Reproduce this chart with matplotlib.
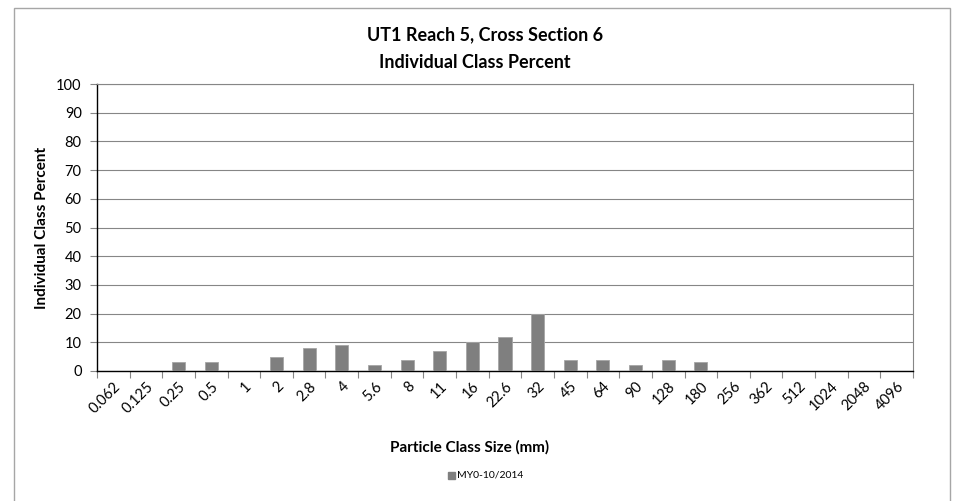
import matplotlib
matplotlib.use('Agg')
import numpy as np
import matplotlib.pyplot as plt
from matplotlib.patches import Rectangle

# Particle size classes (mm) and percent of sample in each class
sizes = ['0.062', '0.125', '0.25', '0.5', '1', '2', '2.8', '4', '5.6', '8', '11',
         '16', '22.6', '32', '45', '64', '90', '128', '180', '256', '362', '512',
         '1024', '2048', '4096']
percent = [0, 0, 3, 3, 0, 5, 8, 9, 2, 4, 7, 10, 12, 20, 4, 4, 2, 4, 3,
           0, 0, 0, 0, 0, 0]
series_name = 'MY0-10/2014'

plt.rcParams['font.family'] = ['Lato', 'DejaVu Sans']

fig = plt.figure(figsize=(9.69, 5.01), dpi=100)
ax = fig.add_axes([97/969, 1-371/501, 816/969, 287/501])

x = np.arange(len(sizes))
ax.bar(x, percent, width=0.4, color='#7f7f7f', edgecolor='#a6a6a6',
       linewidth=0.6, zorder=3)

ax.set_xlim(-0.5, len(sizes) - 0.5)
ax.set_ylim(0, 100)
ax.set_yticks(np.arange(0, 101, 10))
ax.tick_params(axis='y', labelsize=10.5, length=5, width=0.8, color='#868686',
               pad=6)
ax.yaxis.grid(True, color='#868686', linewidth=0.8, zorder=0)

# category labels, with tick marks on the class boundaries
ax.set_xticks(x)
ax.set_xticklabels(sizes, rotation=45, ha='right', rotation_mode='anchor',
                   fontsize=10.5)
ax.tick_params(axis='x', length=0, pad=6)
ax.set_xticks(np.arange(-0.5, len(sizes)), minor=True)
ax.tick_params(axis='x', which='minor', length=5, width=0.8, color='#868686')

for s in ['left', 'bottom']:
    ax.spines[s].set_color('black')
    ax.spines[s].set_linewidth(1.0)
for s in ['top', 'right']:
    ax.spines[s].set_color('#868686')
    ax.spines[s].set_linewidth(0.8)

fig.text(485/969, 1-35/501, 'UT1 Reach 5, Cross Section 6', ha='center',
         va='center', fontsize=13, fontweight='bold')
fig.text(475/969, 1-63/501, 'Individual Class Percent', ha='center',
         va='center', fontsize=13, fontweight='bold')
fig.text(42/969, 1-228/501, 'Individual Class Percent', ha='center',
         va='center', rotation=90, fontsize=11, fontweight='bold')
fig.text(470/969, 1-447/501, 'Particle Class Size (mm)', ha='center',
         va='center', fontsize=11, fontweight='bold')

# legend
fig.patches.append(Rectangle((448/969, 1-479/501), 7/969, 7/501,
                             transform=fig.transFigure, color='#7f7f7f'))
fig.text(457/969, 1-475/501, series_name, ha='left', va='center', fontsize=7.5)

# chart frame
fig.patches.append(Rectangle((14/969, -0.05), 936/969, 1.05 - 8/501,
                             transform=fig.transFigure, fill=False,
                             edgecolor='#a6a6a6', linewidth=1.0))

fig.savefig('out.png', dpi=100)
